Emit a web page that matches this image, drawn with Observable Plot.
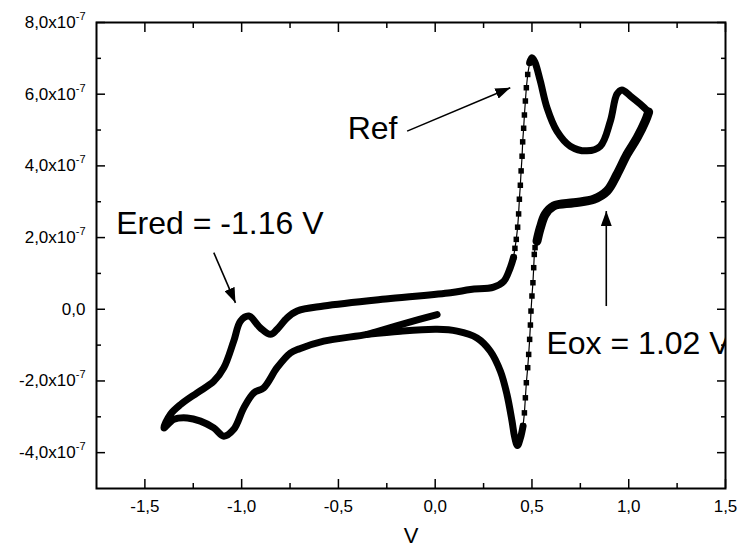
<!DOCTYPE html>
<html><head><meta charset="utf-8">
<script src="https://cdn.jsdelivr.net/npm/d3@7"></script>
<script src="https://cdn.jsdelivr.net/npm/@observablehq/plot@0.6"></script>
<style>body{margin:0;background:#fff} svg{display:block}</style>
</head><body><div id="chart"></div>
<script>
// ---- tick definitions ----
const xTicks = [-1.5, -1, -0.5, 0, 0.5, 1, 1.5];
const xTickLabels = ["-1,5", "-1,0", "-0,5", "0,0", "0,5", "1,0", "1,5"];
const xMinorTicks = [-1.25, -0.75, -0.25, 0.25, 0.75, 1.25];
const yTicks = [-4e-7, -2e-7, 0, 2e-7, 4e-7, 6e-7, 8e-7];
const yTickLabels = ["-4,0x10", "-2,0x10", "0,0", "2,0x10", "4,0x10", "6,0x10", "8,0x10"];
const yTickExponents = ["-7", "-7", "", "-7", "-7", "-7", "-7"];
const yMinorTicks = [-3e-7, -1e-7, 1e-7, 3e-7, 5e-7, 7e-7];
const xLabel = "V";

// ---- cyclic voltammogram (potential V, current in units of 1e-7 A) ----
// start of scan, cathodic sweep, return and upper branch up to the Ref rise
const sweepV = [0.01, -0.146, -0.30, -0.352, -0.576, -0.70, -0.748, -0.817, -0.886, -0.937, -0.989, -1.041, -1.092, -1.144, -1.213, -1.281, -1.35, -1.402,
  -1.368, -1.316, -1.230, -1.144, -1.092, -1.041, -1.006, -0.963, -0.903, -0.851, -0.817, -0.765, -0.713, -0.576, -0.231, 0.079, 0.182, 0.302, 0.354, 0.388, 0.405];
const sweepI = [-0.15, -0.38, -0.62, -0.70, -0.89, -1.10, -1.22, -1.63, -2.19, -2.33, -2.75, -3.35, -3.54, -3.31, -3.12, -3.03, -3.07, -3.31,
  -2.93, -2.66, -2.33, -2.01, -1.63, -0.89, -0.33, -0.19, -0.52, -0.70, -0.56, -0.24, -0.05, 0.09, 0.30, 0.46, 0.55, 0.62, 0.78, 1.16, 1.45];
// steep Ref oxidation (sparse points)
const refRiseV = [0.405, 0.412, 0.419, 0.426, 0.431, 0.435, 0.440, 0.444, 0.449, 0.452, 0.457, 0.461, 0.466, 0.471, 0.478, 0.488];
const refRiseI = [1.45, 1.70, 1.95, 2.29, 2.66, 3.07, 3.46, 3.86, 4.27, 4.67, 5.05, 5.42, 5.81, 6.18, 6.55, 6.88];
// Ref peak and Eox wave up to the switching potential
const anodicV = [0.488, 0.50, 0.515, 0.543, 0.578, 0.629, 0.698, 0.784, 0.853, 0.905, 0.939, 0.965, 1.008, 1.060, 1.103];
const anodicI = [6.88, 7.02, 6.90, 6.37, 5.62, 4.97, 4.55, 4.42, 4.55, 5.25, 6.00, 6.12, 5.95, 5.72, 5.50];
// reverse sweep from the switching potential
const reverseV = [1.103, 1.086, 1.043, 0.991, 0.939, 0.888, 0.819, 0.716, 0.612, 0.569, 0.543, 0.526];
const reverseI = [5.50, 5.25, 4.78, 4.32, 3.76, 3.30, 3.07, 2.97, 2.88, 2.65, 2.27, 1.90];
// steep Ref reduction (sparse points)
const refFallV = [0.526, 0.516, 0.512, 0.509, 0.505, 0.500, 0.495, 0.492, 0.488, 0.483, 0.478, 0.471, 0.466, 0.461, 0.454];
const refFallI = [1.90, 1.72, 1.53, 1.16, 0.74, 0.37, -0.05, -0.44, -0.84, -1.26, -1.63, -2.05, -2.47, -2.89, -3.26];
// Ref cathodic peak and return toward the start
const cathodicV = [0.454, 0.44, 0.425, 0.41, 0.397, 0.371, 0.337, 0.285, 0.216, 0.113, 0.01, -0.18, -0.35];
const cathodicI = [-3.26, -3.60, -3.80, -3.55, -3.12, -2.38, -1.73, -1.17, -0.80, -0.61, -0.56, -0.61, -0.70];

// ---- annotations ----
const noteTexts = ["Ref", "Ered = -1.16 V", "Eox = 1.02 V"];
const noteV = [-0.452, -1.648, 0.575];
const noteI = [5.03, 2.39, -0.96];
const arrowV1 = [-0.145, -1.144, 0.884];
const arrowI1 = [4.97, 1.58, 0.09];
const arrowV2 = [0.388, -1.032, 0.884];
const arrowI2 = [6.18, 0.18, 2.74];

const UNIT = 1e-7;
const rows = (V, I) => V.map((v, k) => ({v, i: I[k] * UNIT}));
const sweep = rows(sweepV, sweepI);
const refRise = rows(refRiseV, refRiseI);
const anodic = rows(anodicV, anodicI);
const reverse = rows(reverseV, reverseI);
const refFall = rows(refFallV, refFallI);
const cathodic = rows(cathodicV, cathodicI);
const fullTrace = [...sweep, ...refRise, ...anodic, ...reverse, ...refFall, ...cathodic];
const notes = noteTexts.map((t, k) => ({t, v: noteV[k], i: noteI[k] * UNIT}));
const arrows = arrowV1.map((v, k) => ({x1: v, y1: arrowI1[k] * UNIT, x2: arrowV2[k], y2: arrowI2[k] * UNIT}));

const FONT = "Liberation Sans, Arial, Helvetica, sans-serif";
const fmtX = d => xTickLabels[xTicks.findIndex(t => Math.abs(t - d) < 1e-9)];
const fmtY = d => yTickLabels[yTicks.findIndex(t => Math.abs(t - d) < 1e-15)];

function filledArrow(color) {
  const ns = "http://www.w3.org/2000/svg";
  const m = document.createElementNS(ns, "marker");
  m.setAttribute("viewBox", "-15 -5.5 15 11");
  m.setAttribute("markerWidth", "15");
  m.setAttribute("markerHeight", "11");
  m.setAttribute("markerUnits", "userSpaceOnUse");
  m.setAttribute("orient", "auto");
  m.setAttribute("refX", "0");
  m.setAttribute("refY", "0");
  const p = document.createElementNS(ns, "path");
  p.setAttribute("d", "M-15,-5.5L0,0L-15,5.5Z");
  p.setAttribute("fill", color);
  p.setAttribute("stroke", "none");
  m.appendChild(p);
  return m;
}

const thick = (data, w) => Plot.line(data, {x: "v", y: "i", stroke: "black", strokeWidth: w, curve: "catmull-rom", strokeLinecap: "round", strokeLinejoin: "round"});

const chart = Plot.plot({
  width: 741,
  height: 547,
  marginLeft: 96,
  marginRight: 16,
  marginTop: 22,
  marginBottom: 59,
  style: {fontFamily: FONT, background: "white", color: "black"},
  x: {domain: [-1.75, 1.5], axis: null},
  y: {domain: [-5e-7, 8e-7], axis: null},
  marks: [
    // thin connecting line through the whole trace
    Plot.line(fullTrace, {x: "v", y: "i", stroke: "black", strokeWidth: 1.2}),
    thick(sweep, 7),
    thick(anodic, 7),
    thick(reverse, 9),
    thick(cathodic, 7),
    Plot.dot([...refRise, ...refFall], {x: "v", y: "i", symbol: "square", r: 3.1, fill: "black"}),
    // annotations
    Plot.link(arrows, {x1: "x1", y1: "y1", x2: "x2", y2: "y2", stroke: "black", strokeWidth: 1.6, markerEnd: filledArrow}),
    Plot.text(notes, {x: "v", y: "i", text: "t", textAnchor: "start", lineAnchor: "middle", fontSize: 32, fill: "black", clip: true}),
    // frame and inward ticks on all four sides
    Plot.frame({stroke: "black", strokeWidth: 2}),
    Plot.axisX({anchor: "bottom", ticks: xTicks, tickSize: -9, fill: "none", strokeWidth: 1.5, label: null}),
    Plot.axisX({anchor: "top", ticks: xTicks, tickSize: -9, fill: "none", strokeWidth: 1.5, label: null}),
    Plot.axisX({anchor: "bottom", ticks: xMinorTicks, tickSize: -5, fill: "none", strokeWidth: 1.5, label: null}),
    Plot.axisX({anchor: "top", ticks: xMinorTicks, tickSize: -5, fill: "none", strokeWidth: 1.5, label: null}),
    Plot.axisY({anchor: "left", ticks: yTicks, tickSize: -9, fill: "none", strokeWidth: 1.5, label: null}),
    Plot.axisY({anchor: "right", ticks: yTicks, tickSize: -9, fill: "none", strokeWidth: 1.5, label: null}),
    Plot.axisY({anchor: "left", ticks: yMinorTicks, tickSize: -5, fill: "none", strokeWidth: 1.5, label: null}),
    Plot.axisY({anchor: "right", ticks: yMinorTicks, tickSize: -5, fill: "none", strokeWidth: 1.5, label: null}),
    // tick labels
    Plot.axisX({anchor: "bottom", ticks: xTicks, tickSize: 0, tickPadding: 11, tickFormat: fmtX, fontSize: 17, label: null}),
    Plot.axisY({anchor: "left", ticks: yTicks, tickSize: 0, tickPadding: 11, tickFormat: fmtY, fontSize: 17, label: null}),
    // axis title
    Plot.text([xLabel], {frameAnchor: "bottom", dy: 47, text: d => d, fontSize: 22, lineAnchor: "middle", fill: "black"})
  ]
});

// add superscript exponents to the y tick labels
d3.select(chart).selectAll('g[aria-label="y-axis tick label"] text').each(function () {
  const txt = this.textContent;
  const k = yTickLabels.indexOf(txt);
  if (k >= 0 && yTickExponents[k]) {
    d3.select(this).append("tspan").attr("dy", "-8").attr("font-size", 11).text(yTickExponents[k]);
  }
});

document.getElementById("chart").appendChild(chart);
</script>
</body></html>
